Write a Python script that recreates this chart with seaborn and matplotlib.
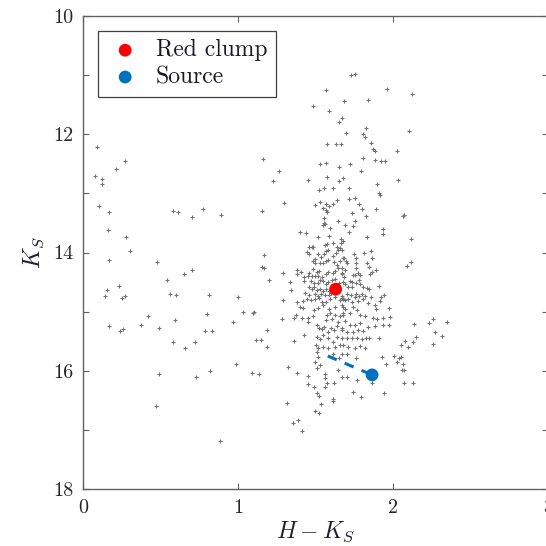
import matplotlib
matplotlib.use("Agg")
import matplotlib.pyplot as plt
import seaborn as sns
import pandas as pd

# ---------------- data ----------------
field_pts = [
    (0.088,12.21),(0.077,12.70),(0.123,12.75),(0.12,12.84),(0.21,12.58),(0.27,12.45),(0.10,13.21),
    (0.17,13.31),(0.16,13.62),(0.28,13.73),(0.30,13.98),(0.17,14.12),(0.155,14.63),(0.14,14.73),
    (0.23,14.57),(0.25,14.77),(0.27,14.74),(0.17,15.25),(0.24,15.33),(0.256,15.30),(0.376,15.23),
    (0.417,15.08),(0.488,15.27),(0.48,14.16),(0.54,14.47),(0.56,14.70),(0.60,14.72),(0.596,15.15),
    (0.58,15.52),(0.66,15.61),(0.725,15.51),(0.488,16.05),(0.473,16.59),(0.583,13.29),(0.61,13.32),
    (0.705,13.40),(0.774,13.27),(0.89,13.37),(0.65,14.37),(0.703,14.30),(0.813,14.72),(0.80,15.04),
    (0.79,15.32),(0.834,15.32),(0.73,16.10),(0.82,16.00),(0.886,17.19),(1.00,14.75),(1.03,15.01),
    (1.097,15.03),(1.105,15.01),(0.966,15.18),(0.99,15.88),(1.09,16.03),(1.137,16.06),(1.116,15.48),
    (1.148,15.48),(1.185,15.31),(1.19,15.59),(1.16,12.42),(1.226,12.79),(1.267,12.62),(1.155,13.29),
    (1.17,14.04),(1.157,14.24),(1.168,14.26),(1.20,14.47),
    (1.727,11.00),(1.753,10.98),(1.566,11.25),(1.961,11.24),(2.125,11.32),(1.686,11.43),(1.836,11.42),
    (1.484,11.52),(1.59,11.61),(1.669,11.73),(1.65,11.80),(1.697,11.98),(1.826,11.90),(1.804,12.00),
    (1.819,12.04),(1.858,12.14),(1.869,12.25),(1.882,12.29),(2.105,11.94),(2.026,12.28),(1.572,12.17),
    (1.634,12.17),(1.665,12.17),(1.806,12.41),(1.886,12.43),(1.92,12.45),(1.946,12.45),(1.529,12.50),
    (1.57,12.48),(1.654,12.55),(1.723,12.50),(1.794,12.63),(1.454,12.77),(1.574,12.72),(1.654,12.79),
    (1.675,12.74),(1.899,12.84),(2.035,12.78),(1.297,13.16),(1.525,12.95),(1.555,12.91),(1.61,12.91),
    (1.716,12.91),(1.907,13.00),(1.914,13.02),(1.497,13.19),(1.529,13.15),(1.57,13.18),(1.589,13.21),
    (1.613,13.18),(1.64,13.11),(1.548,13.25),(1.566,13.28),(1.576,13.32),(1.716,13.10),(1.753,13.07),
    (1.783,13.18),(1.802,13.27),(1.824,13.39),(1.737,13.34),(1.888,13.26),(2.066,13.38),(2.073,13.36),
    (1.557,13.42),(1.557,13.50),(1.546,13.54),(1.561,13.51),(1.595,13.59),(1.645,13.46),(1.692,13.54),
    (1.742,13.55),(1.757,13.47),(1.716,13.65),(1.83,13.74),(1.935,13.60),(1.937,13.69),(2.116,13.77),
    (1.402,13.65),(1.437,13.67),(1.516,13.74),(1.59,13.72),(1.455,13.91),(1.484,13.91),(1.61,13.84),
    (1.663,13.84),(1.68,13.81),
    (2.092,14.22),(2.116,14.16),(2.138,15.21),(2.232,15.19),(2.256,15.13),(2.346,15.18),(2.27,15.35),
    (2.314,15.41),(2.26,15.54),(2.077,15.49),(2.052,15.56),(2.099,15.60),(2.131,15.52),(2.148,15.43),
    (2.052,15.76),(2.066,15.89),(2.056,15.99),(2.073,15.99),
    (1.563,13.88),(1.576,13.85),(1.64,13.91),(1.665,13.78),(1.292,14.35),(1.335,14.50),(1.383,14.30),
    (1.383,14.37),(1.406,14.33),(1.342,14.64),(1.428,14.41),(1.424,14.49),(1.454,14.40),(1.445,13.99),
    (1.46,14.02),(1.475,13.91),(1.486,14.15),(1.497,14.17),(1.499,14.11),(1.514,14.03),(1.537,14.07),
    (1.555,14.02),(1.568,13.98),(1.58,13.95),(1.531,14.18),(1.548,14.17),(1.568,14.15),(1.58,14.12),
    (1.61,14.06),(1.632,14.00),(1.643,13.96),(1.66,13.93),(1.619,14.16),(1.639,14.21),(1.66,14.15),
    (1.675,14.09),(1.481,14.28),(1.507,14.33),(1.524,14.31),(1.458,14.34),(1.477,14.39),(1.497,14.39),
    (1.518,14.39),(1.54,14.41),(1.568,14.37),(1.583,14.33),(1.61,14.34),(1.626,14.31),(1.643,14.26),
    (1.669,14.27),(1.673,14.34),(1.471,14.48),(1.492,14.51),(1.514,14.52),(1.527,14.47),(1.55,14.49),
    (1.568,14.54),(1.583,14.50),(1.604,14.47),(1.626,14.44),(1.456,14.59),(1.475,14.62),(1.492,14.59),
    (1.507,14.64),(1.531,14.61),(1.55,14.65),(1.57,14.61),(1.587,14.65),(1.60,14.69),(1.432,14.69),
    (1.458,14.72),(1.497,14.70),(1.514,14.73),(1.535,14.71),(1.561,14.72),(1.587,14.72),(1.652,14.51),
    (1.673,14.73),(1.68,14.78),
    (1.673,13.96),(1.75,14.02),(1.76,14.09),(1.811,14.00),(1.86,13.97),(1.862,14.10),(1.686,14.10),
    (1.697,14.15),(1.70,14.18),(1.761,14.17),(1.83,14.18),(1.843,14.24),(1.89,14.29),(1.763,14.27),
    (1.69,14.29),(1.772,14.34),(1.74,14.38),(1.755,14.38),(1.79,14.38),(1.852,14.37),(1.866,14.33),
    (1.684,14.41),(1.669,14.37),(1.723,14.48),(1.737,14.50),(1.761,14.51),(1.783,14.47),(1.675,14.50),
    (1.688,14.53),(1.712,14.58),(1.735,14.58),(1.79,14.53),(1.808,14.59),(1.83,14.60),(1.847,14.62),
    (1.912,14.56),(1.944,14.72),(1.706,14.70),(1.732,14.72),(1.76,14.71),(1.783,14.74),(1.80,14.70),
    (1.82,14.74),(1.858,14.75),(1.923,14.75),
    (1.292,14.80),(1.383,14.84),(1.40,14.92),(1.421,14.82),(1.443,14.78),(1.471,14.80),(1.497,14.79),
    (1.523,14.77),(1.54,14.83),(1.568,14.84),(1.594,14.79),(1.626,14.75),(1.658,14.80),(1.282,15.13),
    (1.363,15.10),(1.372,15.05),(1.411,15.10),(1.421,14.94),(1.454,15.10),(1.486,15.07),(1.45,15.18),
    (1.492,14.97),(1.518,14.94),(1.55,14.89),(1.587,14.96),(1.626,14.92),(1.669,14.89),(1.69,14.95),
    (1.572,15.05),(1.594,15.03),(1.626,15.06),(1.658,15.07),(1.68,15.03),(1.566,15.14),(1.604,15.13),
    (1.647,15.17),(1.507,15.23),(1.523,15.27),(1.54,15.30),(1.557,15.26),(1.578,15.34),(1.598,15.27),
    (1.617,15.31),(1.636,15.24),(1.669,15.27),(1.363,15.49),(1.428,15.40),(1.507,15.43),(1.529,15.47),
    (1.55,15.40),(1.583,15.44),(1.615,15.51),(1.636,15.43),(1.673,15.45),(1.501,15.57),(1.518,15.62),
    (1.507,15.68),(1.55,15.60),(1.578,15.62),(1.626,15.60),(1.658,15.57),(1.518,15.76),(1.497,15.85),
    (1.507,15.96),(1.529,15.91),(1.325,15.94),(1.379,16.03),(1.45,16.09),(1.45,16.23),(1.492,16.27),
    (1.51,16.38),(1.561,16.05),(1.561,16.13),(1.572,16.20),(1.561,16.27),(1.622,16.20),(1.643,15.99),
    (1.673,16.10),(1.615,15.71),(1.652,15.79),
    (1.669,14.77),(1.69,14.80),(1.712,14.78),(1.733,14.83),(1.755,14.75),(1.777,14.82),(1.675,14.92),
    (1.744,14.92),(1.765,14.97),(1.68,15.06),(1.723,15.03),(1.787,15.06),(1.808,14.79),(1.841,14.86),
    (1.884,14.89),(1.916,14.82),(1.976,14.94),(1.89,14.95),(1.819,15.07),(1.873,15.10),(1.899,15.13),
    (1.934,15.10),(1.981,15.09),(1.934,15.22),(1.976,15.22),(1.69,15.16),(1.723,15.23),(1.755,15.23),
    (1.787,15.20),(1.841,15.26),(1.884,15.24),(1.669,15.31),(1.70,15.34),(1.744,15.34),(1.777,15.31),
    (1.804,15.33),(1.70,15.44),(1.733,15.45),(1.765,15.45),(1.797,15.47),(1.826,15.44),(1.847,15.44),
    (1.912,15.45),(1.68,15.57),(1.712,15.60),(1.755,15.62),(1.787,15.58),(1.819,15.62),(1.669,15.71),
    (1.705,15.72),(1.761,15.79),(1.927,15.77),(2.006,15.75),(2.04,15.79),(2.023,15.86),(1.955,15.89),
    (1.705,16.10),(1.765,16.16),(1.862,16.21),(1.74,16.36),(1.942,16.38),(2.07,16.21),(2.127,16.20),
    (1.314,16.54),(1.525,16.42),(1.61,16.48),(1.615,16.51),(1.794,16.44),(1.534,16.57),(1.497,16.68),
    (1.523,16.71),(1.357,16.88),(1.385,16.84),(1.411,17.02),
]
field_hk = [p[0] for p in field_pts]
field_ks = [p[1] for p in field_pts]

clump_hk = [1.63]
clump_ks = [14.62]
source_hk = [1.865]
source_ks = [16.07]
track_hk = [1.579, 1.865]
track_ks = [15.75, 16.07]

x_ticks = [0, 1, 2, 3]
y_ticks = [10, 12, 14, 16, 18]
y_minor = [11, 13, 15, 17]

# ---------------- style ----------------
sns.set_theme(style="white")
plt.rcParams["font.family"] = ["cmr10", "DejaVu Serif"]
plt.rcParams["mathtext.fontset"] = "cm"
plt.rcParams["axes.formatter.use_mathtext"] = True
plt.rcParams["axes.unicode_minus"] = False

RED = (1.0, 0.0, 0.0)
BLUE = (0.0, 0.447, 0.741)
GREY = (0.45, 0.45, 0.45)
AXC = (0.38, 0.38, 0.38)

fig = plt.figure(figsize=(5.46, 5.46), dpi=100)
ax = fig.add_axes([83/546, 1-489/546, 465/546, 473/546])

df_field = pd.DataFrame({"hk": field_hk, "ks": field_ks})
sns.scatterplot(data=df_field, x="hk", y="ks", ax=ax, marker="+", color=GREY,
                s=11, linewidth=0.8, legend=False, zorder=2)

sns.lineplot(x=track_hk, y=track_ks, ax=ax, color=BLUE, lw=2.2,
             linestyle=(0, (3.2, 2.8)), zorder=3, legend=False)

sns.scatterplot(x=clump_hk, y=clump_ks, ax=ax, color=RED, s=85, edgecolor="none",
                label="Red clump", zorder=4)
sns.scatterplot(x=source_hk, y=source_ks, ax=ax, color=BLUE, s=85, edgecolor="none",
                label="Source", zorder=4)

ax.set_xlim(0, 3)
ax.set_ylim(18, 10)
ax.set_xticks(x_ticks)
ax.set_yticks(y_ticks)
ax.set_yticks(y_minor, minor=True)
ax.set_xticklabels([str(v) for v in x_ticks])
ax.set_yticklabels([str(v) for v in y_ticks])

ax.tick_params(which="both", direction="in", top=True, right=True, bottom=True, left=True,
               color=AXC, width=0.8, labelsize=14.5, labelcolor=(0.15, 0.15, 0.15))
ax.tick_params(which="major", length=4, pad=7)
ax.tick_params(which="minor", length=4)
for sp in ax.spines.values():
    sp.set_visible(True)
    sp.set_color(AXC)
    sp.set_linewidth(1.0)

ax.set_xlabel(r"$H-K_S$", fontsize=17, color=(0.12, 0.12, 0.2), labelpad=2)
ax.set_ylabel(r"$K_S$", fontsize=17, color=(0.12, 0.12, 0.2), labelpad=5)

leg = ax.legend(loc="upper left", bbox_to_anchor=(15/465, 1-15/473), frameon=True,
                fancybox=False, framealpha=1, edgecolor=(0.25, 0.25, 0.25),
                fontsize=17, handletextpad=0.5, borderpad=0.35, labelspacing=0.2,
                handlelength=1.6, borderaxespad=0)
leg.get_frame().set_linewidth(0.9)
for t in leg.get_texts():
    t.set_color((0.1, 0.1, 0.15))

fig.savefig("out.png", dpi=100)
